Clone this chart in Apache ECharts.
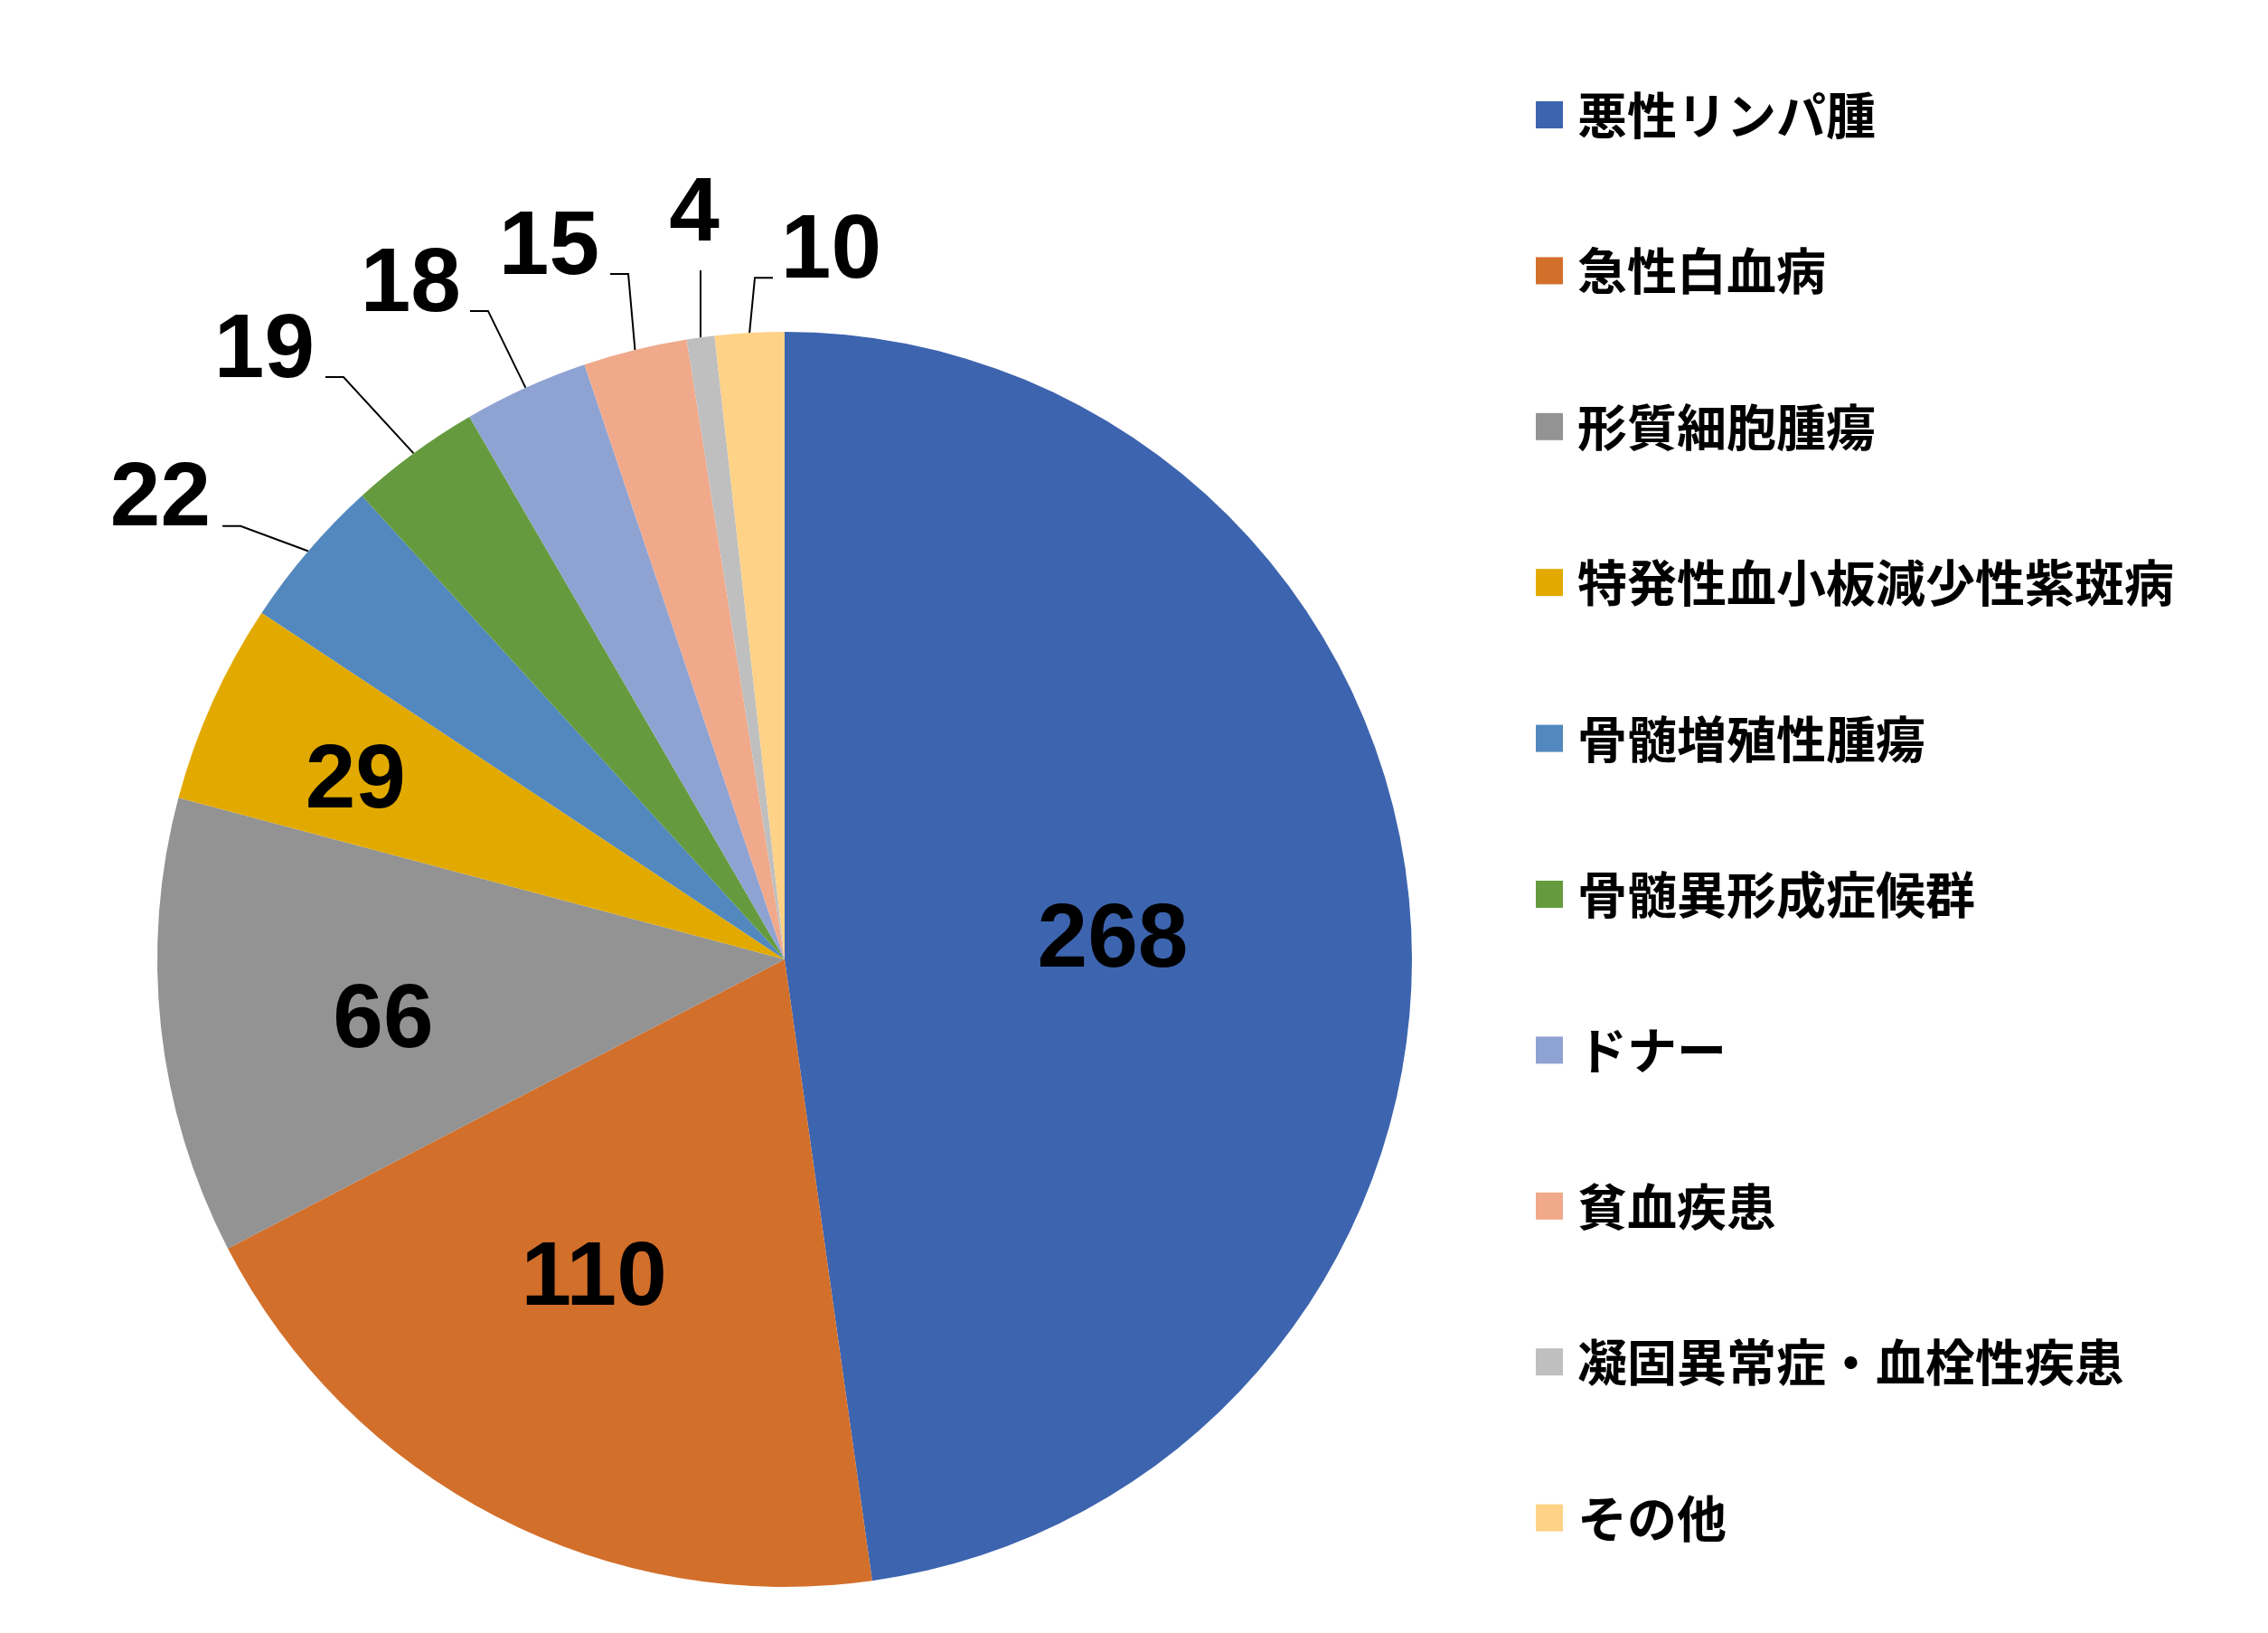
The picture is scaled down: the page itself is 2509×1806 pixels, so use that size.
<!DOCTYPE html>
<html>
<head>
<meta charset="utf-8">
<script src="https://cdn.jsdelivr.net/npm/echarts@6/dist/echarts.min.js"></script>
<style>
html,body{margin:0;padding:0;background:#ffffff;}
#c{width:2509px;height:1806px;}
</style>
</head>
<body>
<div id="c"></div>
<script>
// ---- data ----
const categories = ['悪性リンパ腫','急性白血病','形質細胞腫瘍','特発性血小板減少性紫斑病','骨髄増殖性腫瘍','骨髄異形成症候群','ドナー','貧血疾患','凝固異常症・血栓性疾患','その他'];
const values = [268, 110, 66, 29, 22, 19, 18, 15, 4, 10];

// ---- style ----
const colors = ['#3D64AE','#D26F2B','#939393','#E2AA00','#5288BD','#659B3E','#8FA3D3','#F0A98B','#BFBFBF','#FED287'];
const CX = 868, CY = 1061, R = 694;
// inside labels: radial position as fraction of radius and angular shift in degrees (null = outside label)
const insideRadius = [0.5238, 0.594, 0.6475, 0.740, null, null, null, null, null, null];
const insideShift  = [0.97, 3.5, -2.57, -1.8, 0, 0, 0, 0, 0, 0];
// outside labels: leader-line lengths, text distance and raise above the line
const lineLen  = [0, 0, 0, 0, 42.5, 104.6, 93.3, 86.6, 75, 61];
const lineLen2 = [0, 0, 0, 0, 62.6, 35.7, 23, 6.8, 0, -29.3];
const labelDist = [0, 0, 0, 0, 13, 12, 10, 12, -31, -120];
const labelRaise = [0, 0, 0, 0, 28, 28, 28, 28, 61, 28];
const STUB = 20;

const chart = echarts.init(document.getElementById('c'), null, {renderer: 'canvas'});

const seriesData = categories.map(function (name, i) {
  const item = { name: name, value: values[i], itemStyle: { color: colors[i] } };
  if (insideRadius[i] != null) {
    item.label = { position: 'inside' };
    item.labelLine = { show: false };
  } else {
    item.label = { position: 'outside', distanceToLabelLine: labelDist[i] };
    item.labelLine = { show: true, length: lineLen[i], length2: lineLen2[i] };
  }
  return item;
});

chart.setOption({
  animation: false,
  backgroundColor: '#ffffff',
  legend: {
    orient: 'vertical',
    left: 1694,
    top: 94.5,
    itemWidth: 30,
    itemHeight: 30,
    itemGap: 117.4,
    icon: 'rect',
    selectedMode: false,
    textStyle: {
      fontFamily: 'Noto Sans CJK JP',
      fontWeight: 'bold',
      fontSize: 55,
      lineHeight: 55,
      color: '#000000',
      padding: [0, 0, 0, 11]
    },
    data: categories
  },
  series: [{
    type: 'pie',
    center: [CX, CY],
    radius: R,
    startAngle: 90,
    clockwise: true,
    avoidLabelOverlap: false,
    silent: true,
    itemStyle: { borderWidth: 0 },
    label: {
      show: true,
      formatter: '{c}',
      color: '#000000',
      fontFamily: 'Liberation Sans',
      fontWeight: 'bold',
      fontSize: 100,
      lineHeight: 100
    },
    labelLine: {
      show: true,
      smooth: false,
      minTurnAngle: 0,
      maxSurfaceAngle: 180,
      lineStyle: { color: '#000000', width: 2 }
    },
    labelLayout: function (p) {
      const i = p.dataIndex;
      const f = insideRadius[i];
      if (f != null) {
        const lx = p.labelRect.x + p.labelRect.width / 2;
        const ly = p.labelRect.y + p.labelRect.height / 2;
        const theta = Math.atan2(lx - CX, -(ly - CY)) + insideShift[i] * Math.PI / 180;
        return { x: CX + f * R * Math.sin(theta), y: CY - f * R * Math.cos(theta) };
      }
      const pts = p.labelLinePoints;
      if (pts && pts.length === 3) {
        const p0 = pts[0], p1 = pts[1], p2 = pts[2];
        const s = Math.sign(p1[0] - p2[0]);
        const yText = p2[1] - labelRaise[i];
        if (s === 0) {
          return { y: yText, labelLinePoints: [p0, [p0[0], p2[1]], [p0[0], p2[1]]] };
        }
        return { y: yText, labelLinePoints: [p0, [p2[0] + s * STUB, p2[1]], p2] };
      }
    },
    data: seriesData
  }]
});
</script>
</body>
</html>
